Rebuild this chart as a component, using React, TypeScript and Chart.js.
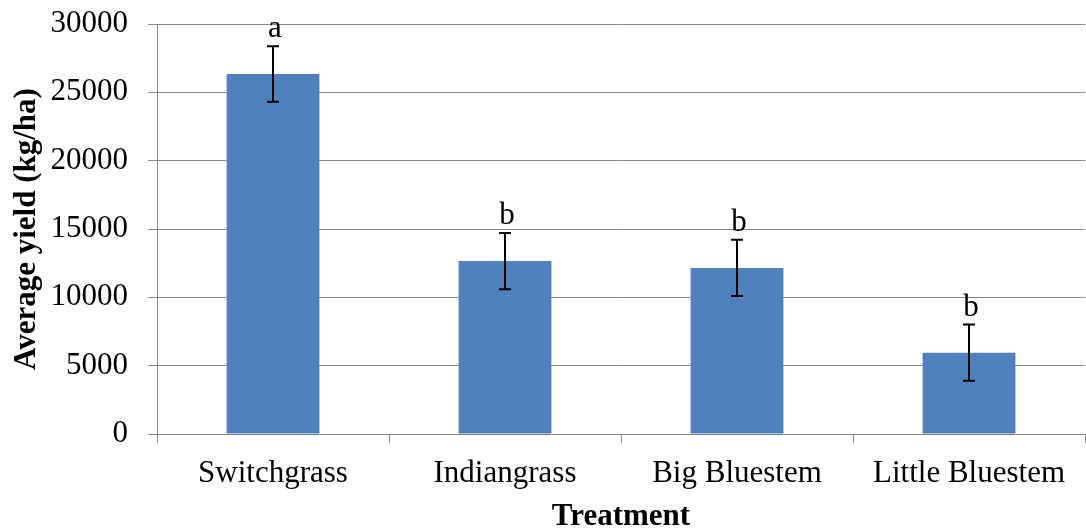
import React, { useEffect, useRef } from "react";
import { Chart, registerables } from "chart.js";

Chart.register(...registerables);

const categories = ["Switchgrass", "Indiangrass", "Big Bluestem", "Little Bluestem"];
const yieldValues = [26350, 12650, 12150, 5950];
const errorValues = [2030, 2060, 2060, 2060];
const groupLetters = ["a", "b", "b", "b"];
const yTickMin = 0;
const yTickMax = 30000;
const yTickStep = 5000;

const FONT = '"Liberation Serif", "Times New Roman", serif';
const GRID = "#898989";

const errorBarPlugin = {
  id: "errorBars",
  afterDatasetsDraw(chart: any) {
    const meta = chart.getDatasetMeta(0);
    const yScale = chart.scales.y;
    const ctx = chart.ctx;
    ctx.save();
    ctx.strokeStyle = "#000000";
    ctx.lineWidth = 2;
    meta.data.forEach((bar: any, i: number) => {
      const x = bar.x;
      const top = yScale.getPixelForValue(yieldValues[i] + errorValues[i]);
      const bottom = yScale.getPixelForValue(yieldValues[i] - errorValues[i]);
      const cap = 6;
      ctx.beginPath();
      ctx.moveTo(x, top);
      ctx.lineTo(x, bottom);
      ctx.moveTo(x - cap, top);
      ctx.lineTo(x + cap, top);
      ctx.moveTo(x - cap, bottom);
      ctx.lineTo(x + cap, bottom);
      ctx.stroke();
    });
    ctx.fillStyle = "#000000";
    ctx.font = `31px ${FONT}`;
    ctx.textAlign = "center";
    ctx.textBaseline = "alphabetic";
    meta.data.forEach((bar: any, i: number) => {
      ctx.fillText(groupLetters[i], bar.x + 2, bar.y - 37);
    });
    ctx.restore();
  },
};

export default function App() {
  const canvasRef = useRef<HTMLCanvasElement | null>(null);

  useEffect(() => {
    if (!canvasRef.current) return;
    const chart = new Chart(canvasRef.current, {
      type: "bar",
      data: {
        labels: categories,
        datasets: [
          {
            data: yieldValues,
            backgroundColor: "#4F81BD",
            borderWidth: 0,
            barPercentage: 0.4,
            categoryPercentage: 1,
          },
        ],
      },
      options: {
        animation: false,
        responsive: true,
        maintainAspectRatio: false,
        layout: { padding: { top: 24, right: 1, left: 0, bottom: 0 } },
        plugins: {
          legend: { display: false },
          tooltip: { enabled: false },
        },
        scales: {
          x: {
            offset: true,
            grid: {
              display: true,
              offset: true,
              drawOnChartArea: false,
              drawTicks: true,
              tickLength: 9,
              color: GRID,
              lineWidth: 1,
            },
            border: { display: true, color: GRID, width: 1 },
            ticks: {
              color: "#000000",
              font: { family: FONT, size: 31 },
              padding: 12,
              maxRotation: 0,
              autoSkip: false,
            },
            title: {
              display: true,
              text: "Treatment",
              color: "#000000",
              font: { family: FONT, size: 31, weight: "bold", lineHeight: 0.9 },
              padding: { top: 0, bottom: 0 },
            },
            afterFit(scale: any) {
              scale.height = 97;
              scale.paddingLeft = 0;
              scale.paddingRight = 0;
            },
          },
          y: {
            min: yTickMin,
            max: yTickMax,
            ticks: {
              stepSize: yTickStep,
              color: "#000000",
              font: { family: FONT, size: 31 },
              padding: 20,
              callback: (v: any) => String(v),
            },
            grid: {
              color: GRID,
              lineWidth: 1,
              drawTicks: true,
              tickLength: 9,
            },
            border: { display: true, color: GRID, width: 1 },
            title: {
              display: true,
              text: "Average yield (kg/ha)",
              color: "#000000",
              font: { family: FONT, size: 31, weight: "bold" },
              padding: { top: 8, bottom: 0 },
            },
            afterFit(scale: any) {
              scale.width = 157;
              scale.paddingTop = 0;
              scale.paddingBottom = 0;
            },
          },
        },
      },
      plugins: [errorBarPlugin],
    });
    return () => chart.destroy();
  }, []);

  return (
    <div style={{ position: "absolute", left: 0, top: 0, width: 1086, height: 531, background: "#ffffff" }}>
      <canvas ref={canvasRef} />
    </div>
  );
}
